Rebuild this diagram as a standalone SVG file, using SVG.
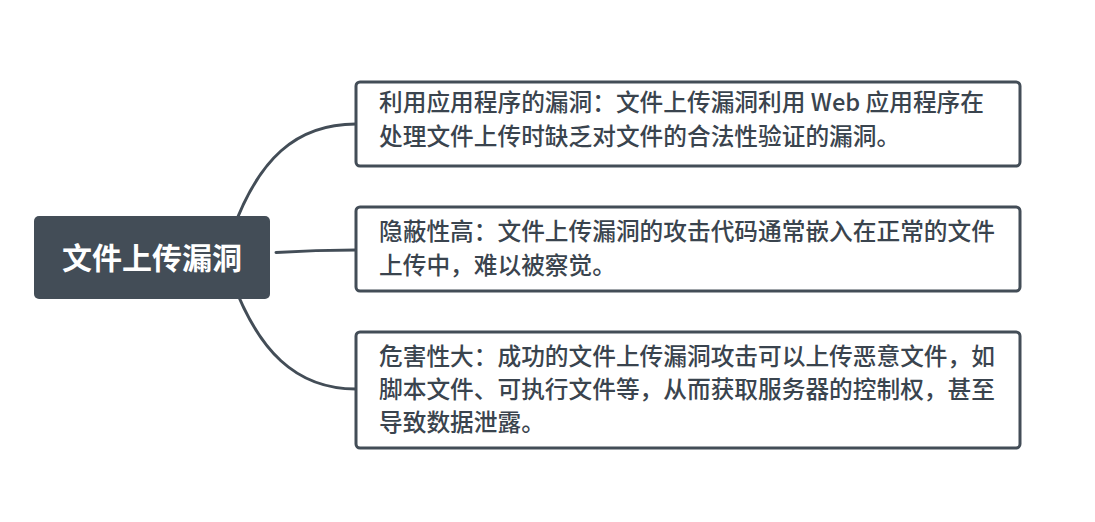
<svg xmlns="http://www.w3.org/2000/svg" width="1095" height="522" viewBox="0 0 1095 522">
<style>
.conn{fill:none;stroke:#434d57;stroke-width:3;stroke-linecap:round}
.box{fill:#ffffff;stroke:#434d57;stroke-width:3}
.root{fill:#434d57}
.rt{font-family:"Noto Sans CJK SC","Noto Sans",sans-serif;font-size:30px;font-weight:bold;fill:#ffffff}
.t{font-family:"Noto Sans CJK SC","Noto Sans",sans-serif;font-size:23.7px;font-weight:500;fill:#3a444e}
</style>
<rect width="1095" height="522" fill="#ffffff"/>
<g id="connectors">
<path class="conn" d="M232 232 C258 160 295 124 356 124"/>
<path class="conn" d="M276 252.5 Q316 250 356 250"/>
<path class="conn" d="M232 280 C258 350 295 389 356 389"/>
</g>
<g id="root">
<rect class="root" x="34" y="216" width="236" height="83" rx="5"/>
<text class="rt" x="152" y="269" text-anchor="middle">文件上传漏洞</text>
</g>
<g id="n1">
<rect class="box" x="356" y="82" width="664" height="84" rx="4"/>
<text class="t" x="379" y="111">利用应用程序的漏洞：文件上传漏洞利用 Web 应用程序在</text>
<text class="t" x="379" y="145">处理文件上传时缺乏对文件的合法性验证的漏洞。</text>
</g>
<g id="n2">
<rect class="box" x="356" y="207" width="664" height="84" rx="4"/>
<text class="t" x="379" y="240">隐蔽性高：文件上传漏洞的攻击代码通常嵌入在正常的文件</text>
<text class="t" x="379" y="274">上传中，难以被察觉。</text>
</g>
<g id="n3">
<rect class="box" x="356" y="332" width="664" height="116" rx="4"/>
<text class="t" x="379" y="365">危害性大：成功的文件上传漏洞攻击可以上传恶意文件，如</text>
<text class="t" x="379" y="398">脚本文件、可执行文件等，从而获取服务器的控制权，甚至</text>
<text class="t" x="379" y="431">导致数据泄露。</text>
</g>
</svg>
